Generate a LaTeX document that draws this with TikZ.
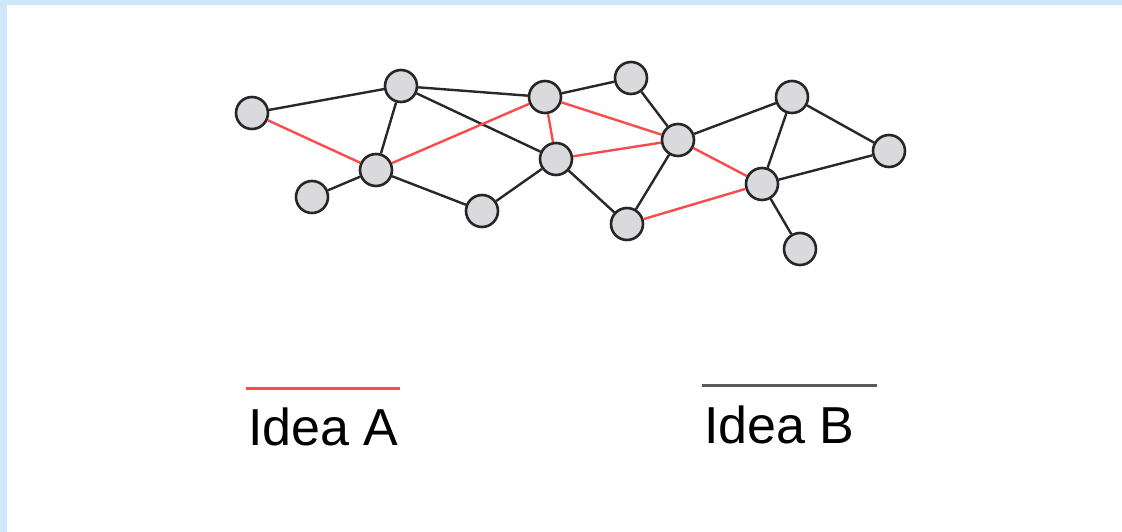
\documentclass[tikz,border=0pt]{standalone}
\usepackage{fontspec}
\setmainfont{Liberation Sans}
\definecolor{nodegray}{RGB}{218,217,220}
\definecolor{ideared}{RGB}{250,76,76}
\definecolor{ideadark}{RGB}{40,40,40}
\definecolor{framebl}{RGB}{206,232,250}
\tikzstyle{vertex}=[circle,draw=black!85,fill=nodegray,line width=2.6pt,minimum size=32pt,inner sep=0pt]
\tikzstyle{link} = [draw,line width=2.4pt,ideadark,-]
\tikzstyle{ideaA} = [draw,line width=2.4pt,ideared,-]
\tikzstyle{legendtext} = [inner sep=0pt,anchor=base west,font=\fontsize{52}{60}\selectfont]

\begin{document}
\begin{tikzpicture}[x=1pt,y=-1pt]
                  % frame
                  \fill[framebl] (0,0) rectangle (1122,532);
                  \fill[white] (7,5) rectangle (1122,532);
                  \useasboundingbox (0,0) rectangle (1122,532);
                  % First we draw the vertices
                  \foreach \pos/\name in {{(252,113)/a},{(401,86)/b},
                  {(545,97)/c},{(631,78)/d},{(376,170)/e},{(312,197)/f},
                  {(482,211)/g},{(556,159)/h},{(678,140)/i},{(792,97)/j},
                  {(889,151)/k},{(762,184)/l},{(627,224)/m},{(800,249)/n}}
                        \node[vertex] (\name) at \pos {};
                  % Connect vertices with edges of idea B
                  \path[link] (a) -- (b) (b) -- (c) (b) -- (e) (b) -- (h)
                        (c) -- (d) (e) -- (f) (e) -- (g) (g) -- (h)
                        (d) -- (i) (h) -- (m) (i) -- (m) (i) -- (j)
                        (j) -- (l) (j) -- (k) (k) -- (l) (l) -- (n);
                  % and edges of idea A
                  \path[ideaA] (a) -- (e) (e) -- (c) (c) -- (h) (c) -- (i)
                        (h) -- (i) (i) -- (l) (m) -- (l);
                  % legend
                  \coordinate (la1) at (246,388);
                  \coordinate (la2) at (400,388);
                  \coordinate (lb1) at (702,385);
                  \coordinate (lb2) at (877,385);
                  \path[ideaA,line width=3pt] (la1) -- (la2);
                  \path[link,line width=3pt,black!65] (lb1) -- (lb2);
                  \node[legendtext] (ideaa) at (248,445) {Idea A};
                  \node[legendtext] (ideab) at (704,443) {Idea B};
            \end{tikzpicture}
\end{document}
